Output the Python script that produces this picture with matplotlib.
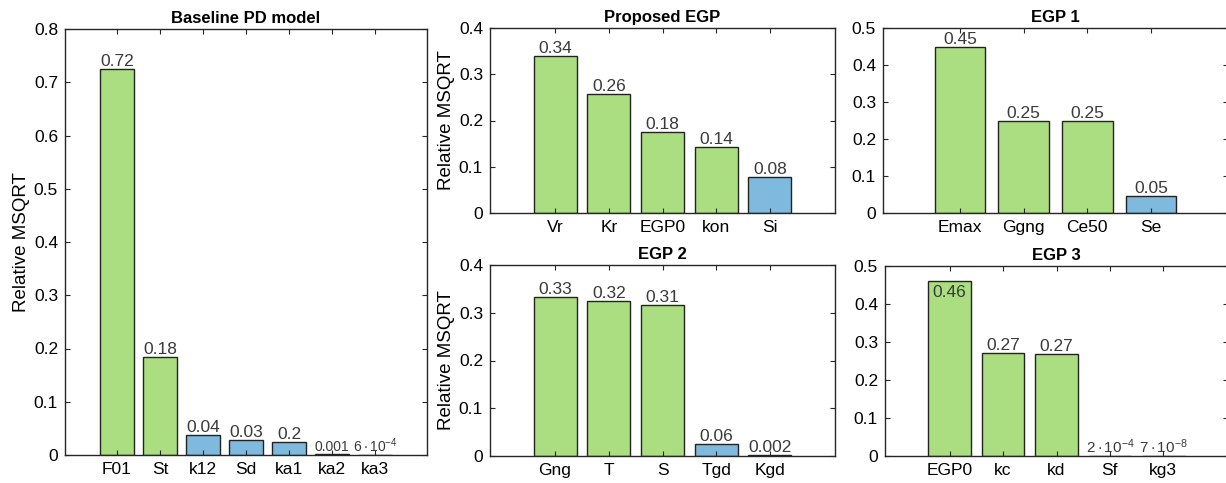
import matplotlib
matplotlib.use("Agg")
import matplotlib.pyplot as plt

plt.rcParams['font.family'] = ['Liberation Sans', 'DejaVu Sans']
plt.rcParams['mathtext.fontset'] = 'custom'
plt.rcParams['mathtext.rm'] = 'Liberation Sans'
plt.rcParams['mathtext.it'] = 'Liberation Sans:italic'

W, H = 1226, 483
GREEN = '#abde80'
BLUE = '#7fb9de'
LABEL_COLOR = '#3a3a3a'

# Baseline PD model
base_names = ['F01', 'St', 'k12', 'Sd', 'ka1', 'ka2', 'ka3']
base_vals = [0.724, 0.184, 0.037, 0.028, 0.025, 0.001, 0.0006]
base_labels = ['0.72', '0.18', '0.04', '0.03', '0.2', '0.001', r'$\mathregular{6\cdot10^{-4}}$']
base_colors = [GREEN, GREEN, BLUE, BLUE, BLUE, BLUE, BLUE]

# Proposed EGP
prop_names = ['Vr', 'Kr', 'EGP0', 'kon', 'Si']
prop_vals = [0.340, 0.257, 0.176, 0.143, 0.078]
prop_labels = ['0.34', '0.26', '0.18', '0.14', '0.08']
prop_colors = [GREEN, GREEN, GREEN, GREEN, BLUE]

# EGP 1
egp1_names = ['Emax', 'Ggng', 'Ce50', 'Se']
egp1_vals = [0.449, 0.250, 0.249, 0.046]
egp1_labels = ['0.45', '0.25', '0.25', '0.05']
egp1_colors = [GREEN, GREEN, GREEN, BLUE]

# EGP 2
egp2_names = ['Gng', 'T', 'S', 'Tgd', 'Kgd']
egp2_vals = [0.332, 0.325, 0.316, 0.026, 0.002]
egp2_labels = ['0.33', '0.32', '0.31', '0.06', '0.002']
egp2_colors = [GREEN, GREEN, GREEN, BLUE, BLUE]

# EGP 3
egp3_names = ['EGP0', 'kc', 'kd', 'Sf', 'kg3']
egp3_vals = [0.460, 0.270, 0.268, 0.0002, 7e-8]
egp3_labels = ['0.46', '0.27', '0.27', r'$\mathregular{2\cdot10^{-4}}$', r'$\mathregular{7\cdot10^{-8}}$']
egp3_colors = [GREEN, GREEN, GREEN, GREEN, GREEN]


def box(l, t, r, b):
    return [l / W, 1 - b / H, (r - l) / W, (b - t) / H]


def bar_panel(ax, names, vals, labels, colors, ymax, title, ylabel=True,
              inside=(), small=(), small_size=11):
    x = list(range(1, len(names) + 1))
    ax.bar(x, vals, width=0.8, color=colors, edgecolor='#222222', linewidth=1.0)
    ax.set_xlim(1 - 1.21, len(names) + 1.21)
    ax.set_ylim(0, ymax)
    n = int(round(ymax * 10))
    ax.set_xticks(x)
    ax.set_xticklabels(names)
    ax.set_yticks([round(v * 0.1, 1) for v in range(n + 1)])
    ax.set_yticklabels(['0' if v == 0 else f'{v * 0.1:.1f}' for v in range(n + 1)])
    ax.tick_params(direction='in', length=3.5, width=0.8, top=True, right=True,
                   labelsize=12.5, pad=5, color='#262626')
    for s in ax.spines.values():
        s.set_linewidth(1.0)
        s.set_color('#262626')
    ax.set_title(title, fontsize=12, fontweight='bold', pad=4)
    if ylabel:
        ax.set_ylabel('Relative MSQRT', fontsize=13.5, labelpad=3)
    for i, (xi, v, lab) in enumerate(zip(x, vals, labels)):
        fs = small_size if i in small else 12.5
        if i in inside:
            ax.annotate(lab, (xi, v), xytext=(0, -3), textcoords='offset points',
                        ha='center', va='top', fontsize=fs, color=LABEL_COLOR)
        else:
            ax.annotate(lab, (xi, v), xytext=(0, 0), textcoords='offset points',
                        ha='center', va='bottom', fontsize=fs, color=LABEL_COLOR)


fig = plt.figure(figsize=(W / 100, H / 100), dpi=100)

ax0 = fig.add_axes(box(65, 29, 427, 455))
bar_panel(ax0, base_names, base_vals, base_labels, base_colors, 0.8,
          'Baseline PD model', small=(5, 6), small_size=10)

ax1 = fig.add_axes(box(490, 28, 835, 213))
bar_panel(ax1, prop_names, prop_vals, prop_labels, prop_colors, 0.4, 'Proposed EGP')

ax2 = fig.add_axes(box(883, 28, 1228, 213))
bar_panel(ax2, egp1_names, egp1_vals, egp1_labels, egp1_colors, 0.5, 'EGP 1',
          ylabel=False)

ax3 = fig.add_axes(box(490, 265, 835, 456))
bar_panel(ax3, egp2_names, egp2_vals, egp2_labels, egp2_colors, 0.4, 'EGP 2')

ax4 = fig.add_axes(box(885, 266, 1228, 456))
bar_panel(ax4, egp3_names, egp3_vals, egp3_labels, egp3_colors, 0.5, 'EGP 3',
          ylabel=False, inside=(0,), small=(3, 4))

fig.savefig('out.png', dpi=100)
